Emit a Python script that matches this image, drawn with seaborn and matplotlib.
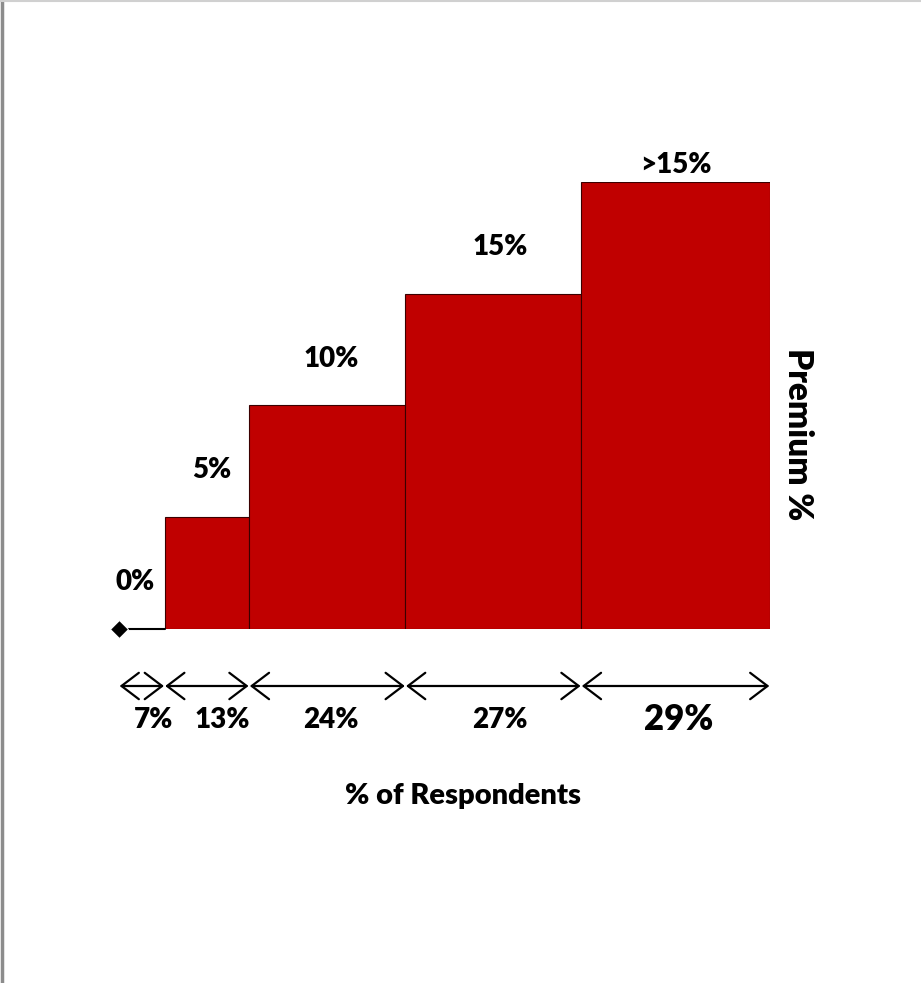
import matplotlib
matplotlib.use("Agg")
import matplotlib.pyplot as plt
import seaborn as sns
import numpy as np
from matplotlib.lines import Line2D

# data
premium_labels = ["0%", "5%", "10%", "15%", ">15%"]
premium_level = [0, 1, 2, 3, 4]          # step height of each bar
respondents = [7, 13, 24, 27, 29]         # bar widths, % of respondents
respondent_labels = ["7%", "13%", "24%", "27%", "29%"]

sns.set_theme(style="white")
plt.rcParams["font.family"] = ["Lato", "DejaVu Sans"]

W, H = 921, 983
fig = plt.figure(figsize=(W / 100, H / 100), dpi=100)
# axes placed so 0..100 % spans the bar area
ax = fig.add_axes([119 / W, (H - 629) / H, 651 / W, 447 / H])

lefts = np.concatenate([[0], np.cumsum(respondents)[:-1]])
centers = lefts + np.array(respondents) / 2

red = "#C00000"
for left, w, h in zip(lefts, respondents, premium_level):
    if h > 0:
        ax.bar(left, h, width=w, align="edge", color=red,
               edgecolor="#3a0000", linewidth=0.8)

# the 0% step: a flat line with a diamond at its start
sns.lineplot(x=[lefts[0], lefts[0] + respondents[0]], y=[0, 0], ax=ax,
             color="black", linewidth=1.5, marker="D", markersize=9.5,
             markevery=[0], clip_on=False)

# small nudges so labels sit where the original placed them
prem_dx = [-1.0, 0.8, 0.6, 1.0, 0.0]
resp_dx = [1.8, 2.3, 0.6, 1.0, 0.5]

for c, h, lab, dx in zip(centers, premium_level, premium_labels, prem_dx):
    y = h + 0.42 if h < max(premium_level) else h + 0.15
    ax.text(c + dx, y, lab, ha="center", va="center", fontsize=20,
            fontweight="heavy", color="black")

# double arrows for each respondent share
arrow_y = -0.51
for left, w, lab, dx in zip(lefts, respondents, respondent_labels, resp_dx):
    ax.annotate("", xy=(left + 0.1, arrow_y), xytext=(left + w - 0.1, arrow_y),
                xycoords="data", annotation_clip=False,
                arrowprops=dict(arrowstyle="<->,head_length=1.25,head_width=0.95",
                                color="black", lw=1.6, shrinkA=0, shrinkB=0,
                                mutation_scale=10))
    big = lab == respondent_labels[-1]
    ax.text(left + w / 2 + dx, -0.81, lab, ha="center", va="center",
            fontsize=25 if big else 20, fontweight="heavy", color="black",
            clip_on=False)

ax.text(52.8, -1.49, "% of Respondents", ha="center", va="center",
        fontsize=21, fontweight="heavy", color="black")
ax.text(104.3, 1.74, "Premium %", ha="center", va="center", rotation=-90,
        fontsize=24, fontweight="heavy", color="black")

ax.set_xlim(0, 100)
ax.set_ylim(0, 4)
ax.axis("off")

# thin frame on the left and top edges
fig.add_artist(Line2D([2 / W, 2 / W], [0, 1], color="#8c8c8c", lw=2.5,
                      transform=fig.transFigure))
fig.add_artist(Line2D([0, 1], [1 - 0.5 / H, 1 - 0.5 / H], color="#d0d0d0",
                      lw=1.5, transform=fig.transFigure))

fig.savefig("out.png", dpi=100)
